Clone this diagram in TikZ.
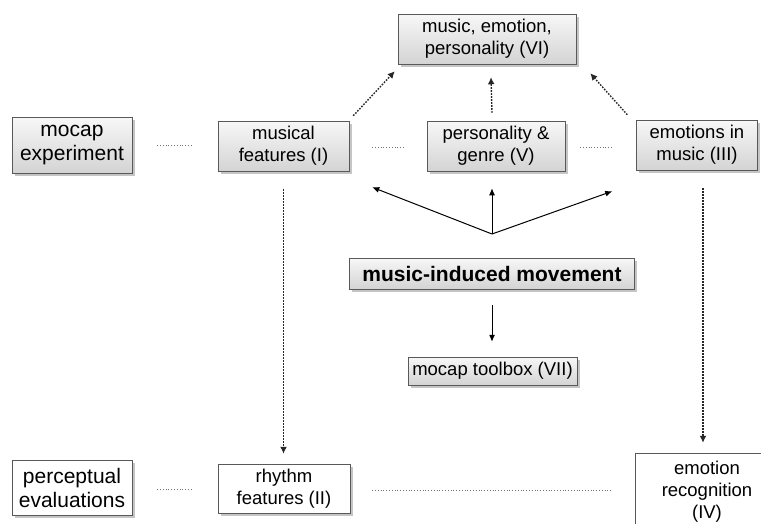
\documentclass[tikz,border=0pt]{standalone}
\usepackage{fontspec}
\setmainfont{Liberation Sans}
\usetikzlibrary{arrows.meta,shadows,positioning,calc}

\begin{document}
\begin{tikzpicture}[x=1pt,y=-1pt,
    frame/.style={draw=black!65,line width=0.5pt,align=center,inner sep=1pt,
      drop shadow={shadow xshift=2.5pt,shadow yshift=-3pt,opacity=0.45},
      font=\fontsize{18.5}{22}\selectfont},
    gbox/.style={frame,top color=black!3,bottom color=black!17},
    wbox/.style={frame,fill=white},
    big/.style={font=\fontsize{21}{24}\selectfont},
    dots/.style={dotted,black!55,line width=0.8pt},
    darrow/.style={dash pattern=on 1.6pt off 1.4pt,line width=1.4pt,black!85,-{Latex[length=7pt,width=7pt]}},
    sarrow/.style={line width=1pt,-{Latex[length=7pt,width=6pt]}}]
  \clip (0,0) rectangle (761,523);
  \fill[white] (0,0) rectangle (761,523);
  % top row
  \node[gbox,big,minimum width=120,minimum height=56] (exp) at (72,145) {mocap\\experiment};
  \node[gbox,minimum width=131,minimum height=50] (feat) at (283.5,146) {musical\\features (I)};
  \node[gbox,minimum width=138,minimum height=50] (pers) at (496,146) {personality \&\\genre (V)};
  \node[gbox,minimum width=121,minimum height=50] (emo) at (697,145) {emotions in\\music (III)};
  \node[gbox,minimum width=178,minimum height=50] (mep) at (487,39) {music, emotion,\\personality (VI)};
  % centre
  \node[gbox,minimum width=285,minimum height=31,font=\fontsize{21}{24}\selectfont\bfseries] (mim) at (492,273.5) {music-induced movement};
  \node[gbox,minimum width=169,minimum height=28] (tool) at (492.5,371) {mocap toolbox (VII)};
  % bottom row
  \node[wbox,big,minimum width=120,minimum height=55] (perc) at (72,487.5) {perceptual\\evaluations};
  \node[wbox,minimum width=132,minimum height=49] (rhy) at (284,488.5) {rhythm\\features (II)};
  \node[wbox,minimum width=144,minimum height=78] (rec) at (707,492) {emotion\\recognition\\(IV)};
  % fine dotted links
  \draw[dots,shorten <=25pt,shorten >=26pt] (exp.east) -- (exp.east -| feat.west);
  \draw[dots,shorten <=23pt,shorten >=21pt] ([yshift=-1pt]feat.east) -- ([yshift=-1pt]feat.east -| pers.west);
  \draw[dots,shorten <=15pt,shorten >=24pt] ([yshift=-1pt]pers.east) -- ([yshift=-1pt]pers.east -| emo.west);
  \draw[dots,shorten <=25pt,shorten >=26pt] ([yshift=-1.5pt]perc.east) -- ([yshift=-1.5pt]perc.east -| rhy.west);
  \draw[dots,shorten <=22pt,shorten >=23pt] ([yshift=-1.5pt]rhy.east) -- ([yshift=-1.5pt]rhy.east -| rec.west);
  % dotted arrows
  \draw[darrow] ([shift={(4,-5)}]feat.north east) -- ([shift={(-3,7)}]mep.south west);
  \draw[darrow] ([shift={(-4,-8)}]pers.north) -- ([shift={(4,13)}]mep.south);
  \draw[darrow] ([shift={(-9,-5)}]emo.north west) -- ([shift={(14,9)}]mep.south east);
  \draw[darrow,shorten <=18pt,shorten >=10pt] (feat.south) -- (feat.south |- rhy.north);
  \draw[darrow,shorten <=18pt,shorten >=10pt] ([xshift=6]emo.south) -- ([xshift=-4]rec.north);
  % solid arrows
  \coordinate (hub) at (492,234);
  \draw[sarrow] (hub) -- ([shift={(23,16)}]feat.south east);
  \draw[sarrow] (hub) -- ([shift={(0,17)}]pers.south -| hub);
  \draw[sarrow] (hub) -- ([shift={(-24,21)}]emo.south west);
  \draw[sarrow,shorten <=16pt,shorten >=15pt] (mim.south) -- (mim.south |- tool.north);
\end{tikzpicture}
\end{document}
